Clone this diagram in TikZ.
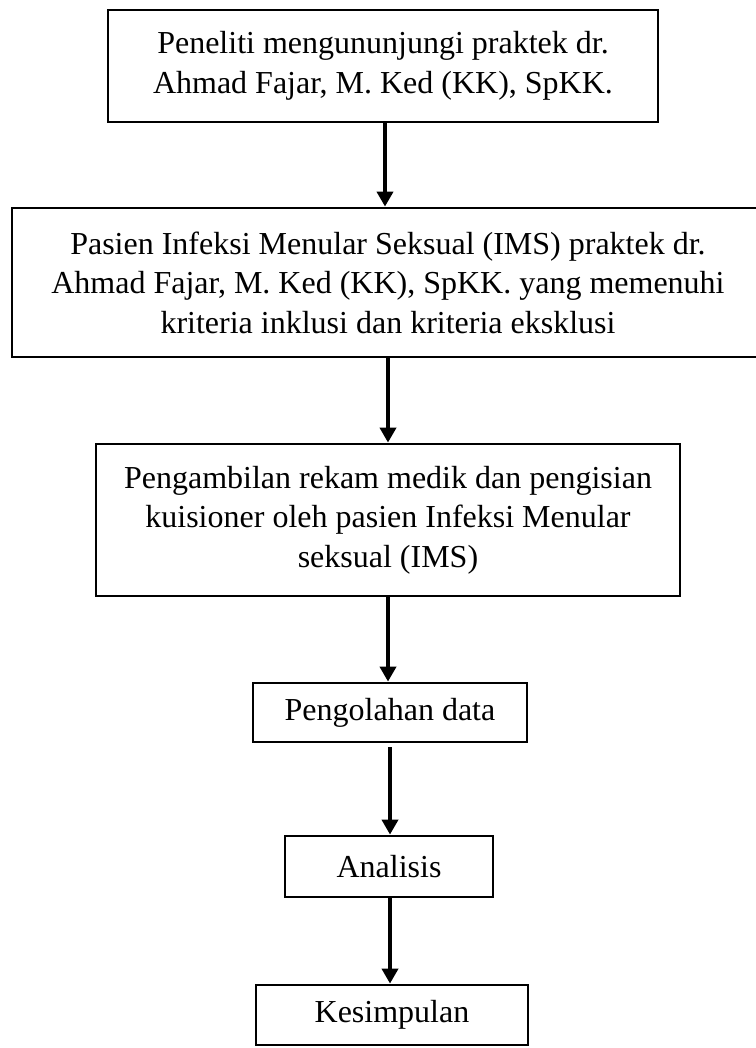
\documentclass[tikz,border=0pt]{standalone}
\usepackage{fontspec}
\setmainfont{Liberation Serif}
\usepackage{tikz}
\usetikzlibrary{arrows.meta}

\begin{document}
\begin{tikzpicture}[x=1pt,y=-1pt,
		box/.style={draw,line width=2.8pt,align=center,inner sep=0pt,
			font=\fontsize{32}{39.5}\selectfont},
		arr/.style={line width=4.5pt,-{Triangle[width=16pt,length=15pt]}}]
		\useasboundingbox (0,0) rectangle (755,1048);
		
		\node[box,minimum width=550pt,minimum height=112pt] (peneliti) at (383,66)
			{Peneliti mengununjungi praktek dr.\\Ahmad Fajar, M. Ked (KK), SpKK.};
		\node[box,minimum width=752pt,minimum height=149pt] (pasien) at (388,282.5)
			{Pasien Infeksi Menular Seksual (IMS) praktek dr.\\Ahmad Fajar, M. Ked (KK), SpKK. yang memenuhi\\kriteria inklusi dan kriteria eksklusi};
		\node[box,minimum width=584pt,minimum height=152pt] (rekam) at (388,520)
			{Pengambilan rekam medik dan pengisian\\kuisioner oleh pasien Infeksi Menular\\seksual (IMS)};
		\node[box,minimum width=274pt,minimum height=59pt] (olah) at (390,712.5) {Pengolahan data};
		\node[box,minimum width=208pt,minimum height=61pt] (analisis) at (389,866.5) {Analisis};
		\node[box,minimum width=272pt,minimum height=60pt] (simpul) at (392,1015) {Kesimpulan};
		
		% alur
		\draw[arr] ([xshift=2pt]peneliti.south) -- ([xshift=2pt]peneliti.south |- pasien.north);
		\draw[arr] (pasien.south) -- (pasien.south |- rekam.north);
		\draw[arr] (rekam.south) -- (rekam.south |- olah.north);
		\draw[arr] ([yshift=-4pt]olah.south) -- (olah.south |- analisis.north);
		\draw[arr] ([xshift=1pt]analisis.south) -- ([xshift=1pt]analisis.south |- simpul.north);
	\end{tikzpicture}
\end{document}
